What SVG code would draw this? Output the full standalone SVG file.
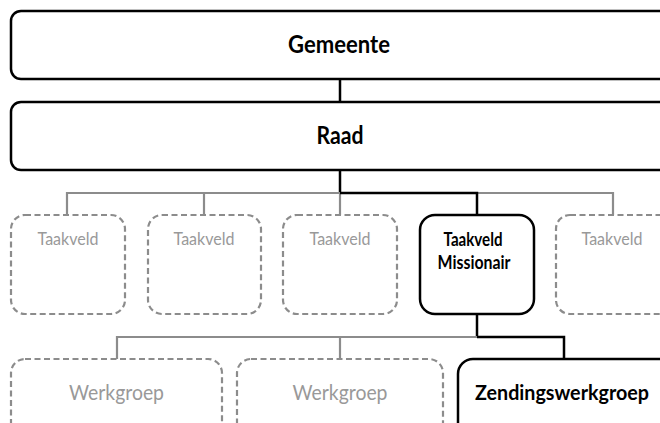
<svg xmlns="http://www.w3.org/2000/svg" width="660" height="423" viewBox="0 0 660 423">
<style>
.solid{fill:#fff;stroke:#000;stroke-width:2.5}
.dash{fill:#fff;stroke:#8c8c8c;stroke-width:2.2;stroke-dasharray:6 3.5}
.gl{stroke:#8c8c8c;stroke-width:2.2;fill:none}
.bl{stroke:#000;stroke-width:2.5;fill:none}
.bt{font-family:Lato,"Open Sans","Liberation Sans",sans-serif;font-weight:bold;fill:#000;text-anchor:middle}
.gt{font-family:Lato,"Open Sans","Liberation Sans",sans-serif;fill:#999;text-anchor:middle}
</style>
<rect width="660" height="423" fill="#fff"/>
<g id="connectors">
<line class="bl" x1="340" y1="79" x2="340" y2="102"/>
<line class="bl" x1="340" y1="170" x2="340" y2="193"/>
<polyline class="gl" points="67,215 67,193 613,193 613,215"/>
<line class="gl" x1="204" y1="193" x2="204" y2="215"/>
<line class="gl" x1="340" y1="193" x2="340" y2="215"/>
<polyline class="bl" points="340,193 477,193 477,215"/>
<line class="bl" x1="477" y1="314" x2="477" y2="337"/>
<polyline class="gl" points="117,359 117,337 477,337"/>
<line class="gl" x1="340" y1="337" x2="340" y2="359"/>
<polyline class="bl" points="477,337 564,337 564,359"/>
</g>
<g id="gemeente">
<rect class="solid" x="11" y="11" width="680" height="68" rx="10"/>
<text class="bt" x="339" y="53" font-size="24" textLength="102" lengthAdjust="spacingAndGlyphs">Gemeente</text>
</g>
<g id="raad">
<rect class="solid" x="11" y="102" width="680" height="68" rx="10"/>
<text class="bt" x="340" y="144" font-size="24" textLength="47" lengthAdjust="spacingAndGlyphs">Raad</text>
</g>
<g id="taakveld1">
<rect class="dash" x="11" y="215" width="114" height="99" rx="14"/>
<text class="gt" x="68" y="245" font-size="18" textLength="61" lengthAdjust="spacingAndGlyphs">Taakveld</text>
</g>
<g id="taakveld2">
<rect class="dash" x="148" y="215" width="113" height="99" rx="14"/>
<text class="gt" x="204" y="245" font-size="18" textLength="61" lengthAdjust="spacingAndGlyphs">Taakveld</text>
</g>
<g id="taakveld3">
<rect class="dash" x="283" y="215" width="114" height="99" rx="14"/>
<text class="gt" x="340" y="245" font-size="18" textLength="61" lengthAdjust="spacingAndGlyphs">Taakveld</text>
</g>
<g id="taakveld-missionair">
<rect class="solid" x="420" y="215" width="114" height="99" rx="15"/>
<text class="bt" x="473" y="246" font-size="18" textLength="59" lengthAdjust="spacingAndGlyphs">Taakveld</text>
<text class="bt" x="474" y="269" font-size="18" textLength="73" lengthAdjust="spacingAndGlyphs">Missionair</text>
</g>
<g id="taakveld5">
<rect class="dash" x="556" y="215" width="120" height="99" rx="14"/>
<text class="gt" x="612" y="245" font-size="18" textLength="61" lengthAdjust="spacingAndGlyphs">Taakveld</text>
</g>
<g id="werkgroep1">
<rect class="dash" x="11" y="359" width="211" height="90" rx="14"/>
<text class="gt" x="116.5" y="400" font-size="22" textLength="95" lengthAdjust="spacingAndGlyphs">Werkgroep</text>
</g>
<g id="werkgroep2">
<rect class="dash" x="237" y="359" width="206" height="90" rx="14"/>
<text class="gt" x="340" y="400" font-size="22" textLength="95" lengthAdjust="spacingAndGlyphs">Werkgroep</text>
</g>
<g id="zendingswerkgroep">
<rect class="solid" x="458" y="359" width="240" height="90" rx="15"/>
<text class="bt" x="562" y="400" font-size="20" textLength="174" lengthAdjust="spacingAndGlyphs">Zendingswerkgroep</text>
</g>
</svg>
